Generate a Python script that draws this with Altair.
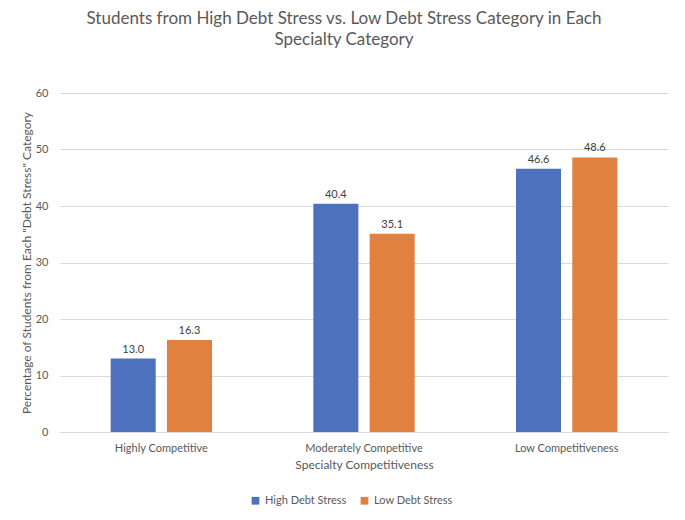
import altair as alt
import pandas as pd

categories = ["Highly Competitive", "Moderately Competitive", "Low Competitiveness"]
series = ["High Debt Stress", "Low Debt Stress"]
high_vals = [13.0, 40.4, 46.6]
low_vals = [16.3, 35.1, 48.6]
colors = ["#4E71BE", "#E0813F"]

rows = []
for c, h, l in zip(categories, high_vals, low_vals):
    rows.append({"cat": c, "series": series[0], "value": h})
    rows.append({"cat": c, "series": series[1], "value": l})
df = pd.DataFrame(rows)

FONT = "Lato"
GRAY = "#595959"

x = alt.X("cat:N", sort=categories,
          scale=alt.Scale(paddingInner=0.5, paddingOuter=0.25),
          axis=alt.Axis(title="Specialty Competitiveness", labelAngle=0, ticks=False,
                        domainColor="#D9D9D9", labelColor=GRAY, labelFontSize=11,
                        labelPadding=10, titleColor=GRAY, titleFontSize=12,
                        titleFontWeight="normal", titlePadding=6, labelFont=FONT, titleFont=FONT))
xo = alt.XOffset("series:N", sort=series, scale=alt.Scale(paddingInner=0.2))
y = alt.Y("value:Q", scale=alt.Scale(domain=[0, 60]),
          axis=alt.Axis(title='Percentage of Students from Each "Debt Stress" Category',
                        values=[0, 10, 20, 30, 40, 50, 60], domain=False, ticks=False,
                        gridColor="#D9D9D9", labelColor=GRAY, labelFontSize=11, labelPadding=12,
                        titleColor=GRAY, titleFontSize=12, titleFontWeight="normal",
                        titlePadding=2, labelFont=FONT, titleFont=FONT))

bars = alt.Chart(df).mark_bar().encode(
    x=x, xOffset=xo, y=y,
    color=alt.Color("series:N", sort=series,
                    scale=alt.Scale(domain=series, range=colors),
                    legend=alt.Legend(title=None, orient="none", direction="horizontal",
                                      legendX=190, legendY=402, symbolType="square",
                                      symbolSize=60, labelFontSize=11, labelColor=GRAY,
                                      labelFont=FONT, columnPadding=12, symbolOffset=0,
                                      labelOffset=4)),
)
labels = alt.Chart(df).mark_text(dy=-9, fontSize=11, color="#404040", font=FONT).encode(
    x=x, xOffset=xo, y=y, text=alt.Text("value:Q", format=".1f"))

chart = (bars + labels).properties(
    width=608, height=339,
    title=alt.TitleParams(["Students from High Debt Stress vs. Low Debt Stress Category in Each",
                           "Specialty Category"],
                          fontSize=17, font=FONT, color=GRAY, fontWeight="normal",
                          anchor="middle", dx=-20, offset=38, lineHeight=21),
    autosize=alt.AutoSizeParams(type="none"),
    padding={"left": 52, "top": 85, "right": 8, "bottom": 76},
).configure_view(stroke=None)

chart.save("out.html", embed_options={"renderer": "svg", "actions": False})
